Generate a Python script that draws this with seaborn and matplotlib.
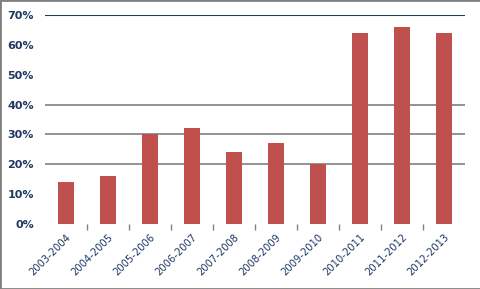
import matplotlib
matplotlib.use("Agg")
import matplotlib.pyplot as plt
import seaborn as sns
import pandas as pd
import numpy as np
from matplotlib.patches import Rectangle
from matplotlib.ticker import FuncFormatter

seasons = ["2003-2004", "2004-2005", "2005-2006", "2006-2007", "2007-2008",
           "2008-2009", "2009-2010", "2010-2011", "2011-2012", "2012-2013"]
values = [14, 16, 30, 32, 24, 27, 20, 64, 66, 64]
y_ticks = [0, 10, 20, 30, 40, 50, 60, 70]
grid_levels = [20, 30, 40]

sns.set_theme(style="white")
plt.rcParams['font.family'] = ['DejaVu Sans']

df = pd.DataFrame({"season": seasons, "value": values})

fig = plt.figure(figsize=(4.81, 2.89), dpi=100)
ax = fig.add_axes([45/481, 65/289, 420/481, 209/289])

sns.barplot(data=df, x="season", y="value", color="#C0504D", width=0.4,
            saturation=1, linewidth=0, edgecolor="none", ax=ax, zorder=3)

navy = "#1F3864"
for g in grid_levels:
    ax.axhline(g, color="#808080", lw=1.2, zorder=1)
ax.axhline(70, color=navy, lw=1.5, zorder=1)

ax.set_ylim(0, 70)
ax.set_xlim(-0.5, len(seasons) - 0.5)
ax.set_yticks(y_ticks)
ax.yaxis.set_major_formatter(FuncFormatter(lambda v, p: f"{int(v)}%"))
for lab in ax.get_yticklabels():
    lab.set_fontweight("bold")
    lab.set_fontsize(8)
    lab.set_color(navy)
ax.tick_params(axis="y", length=0, pad=8)

ax.set_xticks(range(len(seasons)))
ax.set_xticklabels(seasons, rotation=45, ha="right", rotation_mode="anchor",
                   fontsize=7.2, color=navy)
ax.tick_params(axis="x", which="major", length=0, pad=6)
ax.set_xticks(np.arange(0.5, len(seasons) - 1, 1), minor=True)
ax.tick_params(axis="x", which="minor", length=4, width=1, color="#808080",
               direction="out", bottom=True)

ax.set_xlabel("")
ax.set_ylabel("")
for s in ax.spines.values():
    s.set_visible(False)

fig.patches.append(Rectangle((0, 0), 1, 1, transform=fig.transFigure,
                             fill=False, edgecolor="#808080", lw=2))

fig.savefig("out.png", dpi=100)
